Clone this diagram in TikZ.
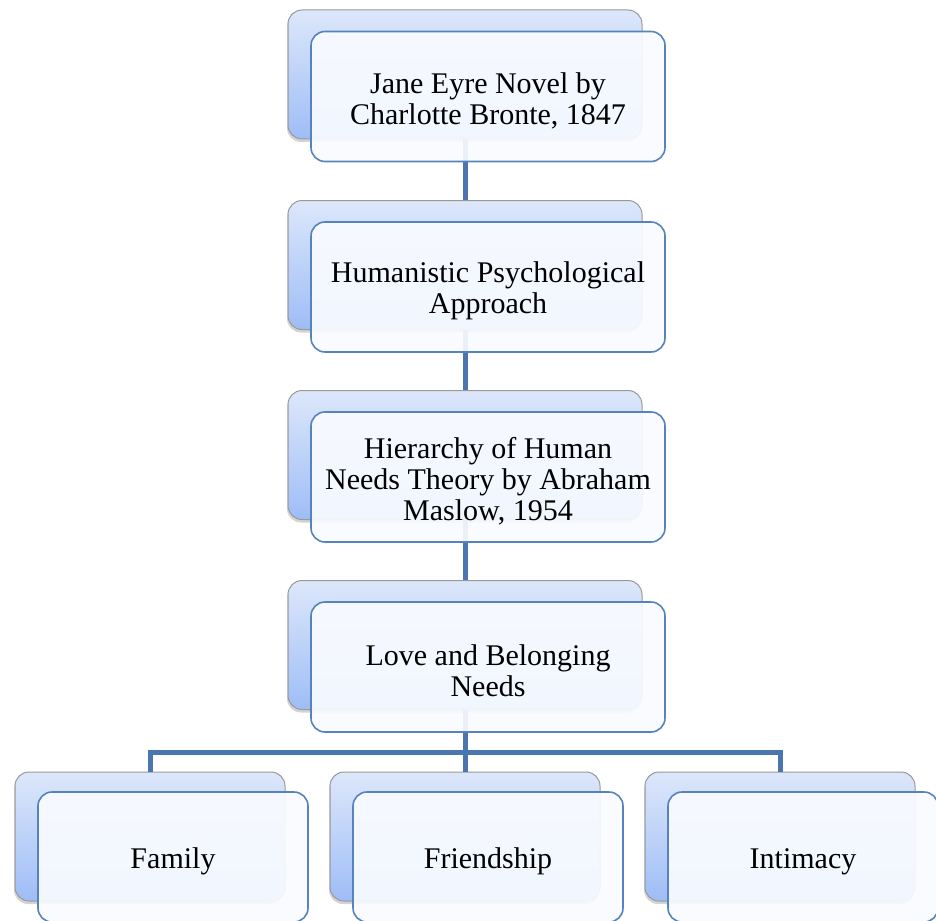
\documentclass[tikz,border=0pt]{standalone}
\usepackage{fontspec}
\setmainfont{Liberation Serif}
\usepackage{tikz}
\usetikzlibrary{shadows}

\definecolor{backtop}{HTML}{DDE7FB}
\definecolor{backbot}{HTML}{9EBDF6}
\definecolor{frontline}{HTML}{5683BE}
\definecolor{frontfill}{HTML}{F9FBFF}
\definecolor{linkblue}{HTML}{4A76B0}
\newcommand{\boxstrut}{\rule{0pt}{29pt}}

\begin{document}
\begin{tikzpicture}[x=1pt, y=-1pt]

\tikzstyle{backbox}=[draw=gray!80, line width=1pt, rounded corners=14pt,
top color=backtop, bottom color=backbot, minimum width=354pt,
minimum height=129pt, drop shadow={shadow xshift=-1pt, shadow yshift=-3pt, opacity=0.35}]
\tikzstyle{frontbox}=[draw=frontline, line width=1.6pt, rounded corners=14pt,
fill=frontfill, fill opacity=0.92, text opacity=1, align=center,
minimum width=354pt, minimum height=130pt,
font=\fontsize{30}{31}\selectfont]
\tikzstyle{link}=[draw=linkblue, line width=5pt]

\clip (0,0) rectangle (936,920);

% back boxes
\node[backbox] (novelbk) at (465,74.5) {};
\node[backbox] (humanbk) at (465,265) {};
\node[backbox] (maslowbk) at (465,455) {};
\node[backbox] (lovebk) at (465,645) {};
\node[backbox, minimum width=270pt] (familybk) at (150,836.5) {};
\node[backbox, minimum width=270pt] (friendbk) at (465,836.5) {};
\node[backbox, minimum width=270pt] (intimbk) at (780,836.5) {};

% connectors
\coordinate (fork) at (465,752);
\draw[link] (novelbk.south) -- (humanbk.north);
\draw[link] (humanbk.south) -- (maslowbk.north);
\draw[link] (maslowbk.south) -- (lovebk.north);
\draw[link] (lovebk.south) -- (fork);
\draw[link] (familybk.north) |- (fork) -| (intimbk.north);
\draw[link] (fork) -- (friendbk.north);

% front boxes
\node[frontbox] (novel) at (488,96.5) {\boxstrut Jane Eyre Novel by\\Charlotte Bronte, 1847};
\node[frontbox] (human) at (488,287) {\boxstrut Humanistic Psychological\\Approach};
\node[frontbox] (maslow) at (488,477) {\boxstrut Hierarchy of Human\\Needs Theory by Abraham\\Maslow, 1954};
\node[frontbox] (love) at (488,667) {\boxstrut Love and Belonging\\Needs};
\node[frontbox, minimum width=270pt] (family) at (173,857) {\boxstrut Family};
\node[frontbox, minimum width=270pt] (friend) at (488,857) {\boxstrut Friendship};
\node[frontbox, minimum width=270pt] (intim) at (803,857) {\boxstrut Intimacy};

\end{tikzpicture}
\end{document}
